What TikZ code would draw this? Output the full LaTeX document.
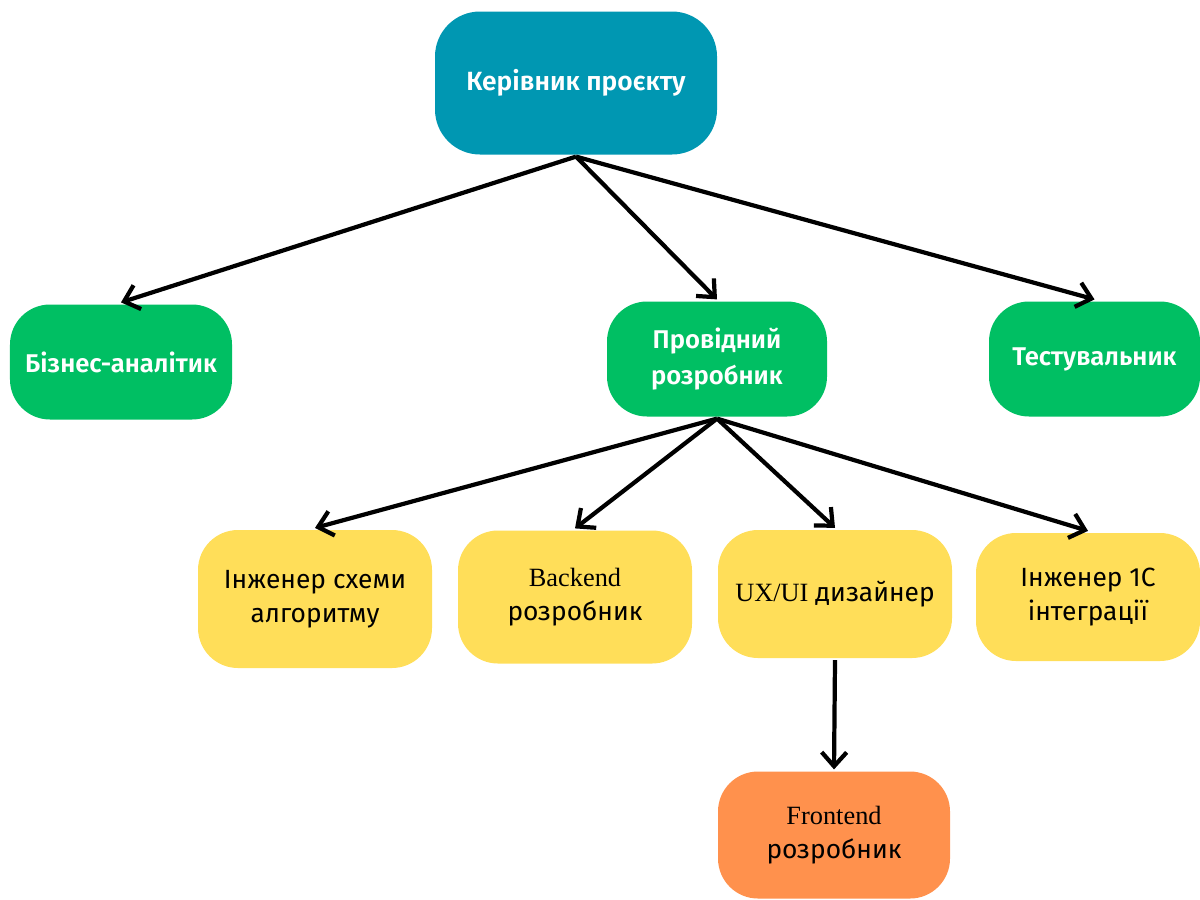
\documentclass[tikz,border=0pt]{standalone}
\usepackage{fontspec}
\setmainfont{Fira Sans}[BoldFont={Fira Sans SemiBold}]
\newfontfamily\latfont{Liberation Serif}
\usetikzlibrary{arrows.meta,positioning}
\definecolor{teal}{HTML}{0097B2}
\definecolor{leafgreen}{HTML}{00BF63}
\definecolor{sunyellow}{HTML}{FFDE59}
\definecolor{peach}{HTML}{FF914D}
\tikzstyle{role}=[rounded corners=0.8cm,align=center,inner sep=0pt]
\tikzstyle{head}=[role,fill=teal,text=white,font=\bfseries\fontsize{15}{18}\selectfont,minimum width=5.64cm,minimum height=2.86cm,rounded corners=0.9cm]
\tikzstyle{lvlone}=[role,fill=leafgreen,text=white,font=\bfseries\fontsize{14.6}{20.5}\selectfont,minimum height=2.3cm]
\tikzstyle{lvltwo}=[role,fill=sunyellow,text=black,font=\fontsize{15}{19.5}\selectfont,minimum width=4.68cm,minimum height=2.66cm]

\begin{document}
\begin{tikzpicture}[
      >={Straight Barb[length=2.8mm,width=5mm]},
      line width=2.4pt
    ]
      \useasboundingbox (0,0) rectangle (24,-17.98);
      \node [head] (pm) at (11.52,-1.66) {Керівник проєкту};

      \node [lvlone,minimum width=4.44cm] (ba) at (2.42,-7.24) {Бізнес-аналітик};
      \node [lvlone,minimum width=4.40cm] (lead) at (14.34,-7.18) {Провідний\\розробник};
      \node [lvlone,minimum width=4.22cm] (qa) at (21.89,-7.18) {Тестувальник};

      \node [lvltwo,minimum height=2.76cm] (algo) at (6.30,-11.98) {Інженер схеми\\алгоритму};
      \node [lvltwo] (back) at (11.50,-11.94) {{\latfont Backend}\\розробник};
      \node [lvltwo,minimum height=2.56cm] (ux) at (16.70,-11.88) {{\latfont UX/UI} дизайнер};
      \node [lvltwo,minimum width=4.48cm,minimum height=2.56cm] (onec) at (21.76,-11.94) {Інженер 1С\\інтеграції};

      \node [lvltwo,fill=peach,minimum width=4.64cm,minimum height=2.54cm] (front) at (16.68,-16.70) {{\latfont Frontend}\\розробник};

      \draw[->] (pm.south) -- (ba.north);
      \draw[->] (pm.south) -- (lead.north);
      \draw[->] (pm.south) -- (qa.north);
      \draw[->] (lead.south) -- (algo.north);
      \draw[->] (lead.south) -- (back.north);
      \draw[->] (lead.south) -- (ux.north);
      \draw[->] (lead.south) -- (onec.north);
      \draw[->] (ux.south) -- (front.north);
    \end{tikzpicture}
\end{document}
